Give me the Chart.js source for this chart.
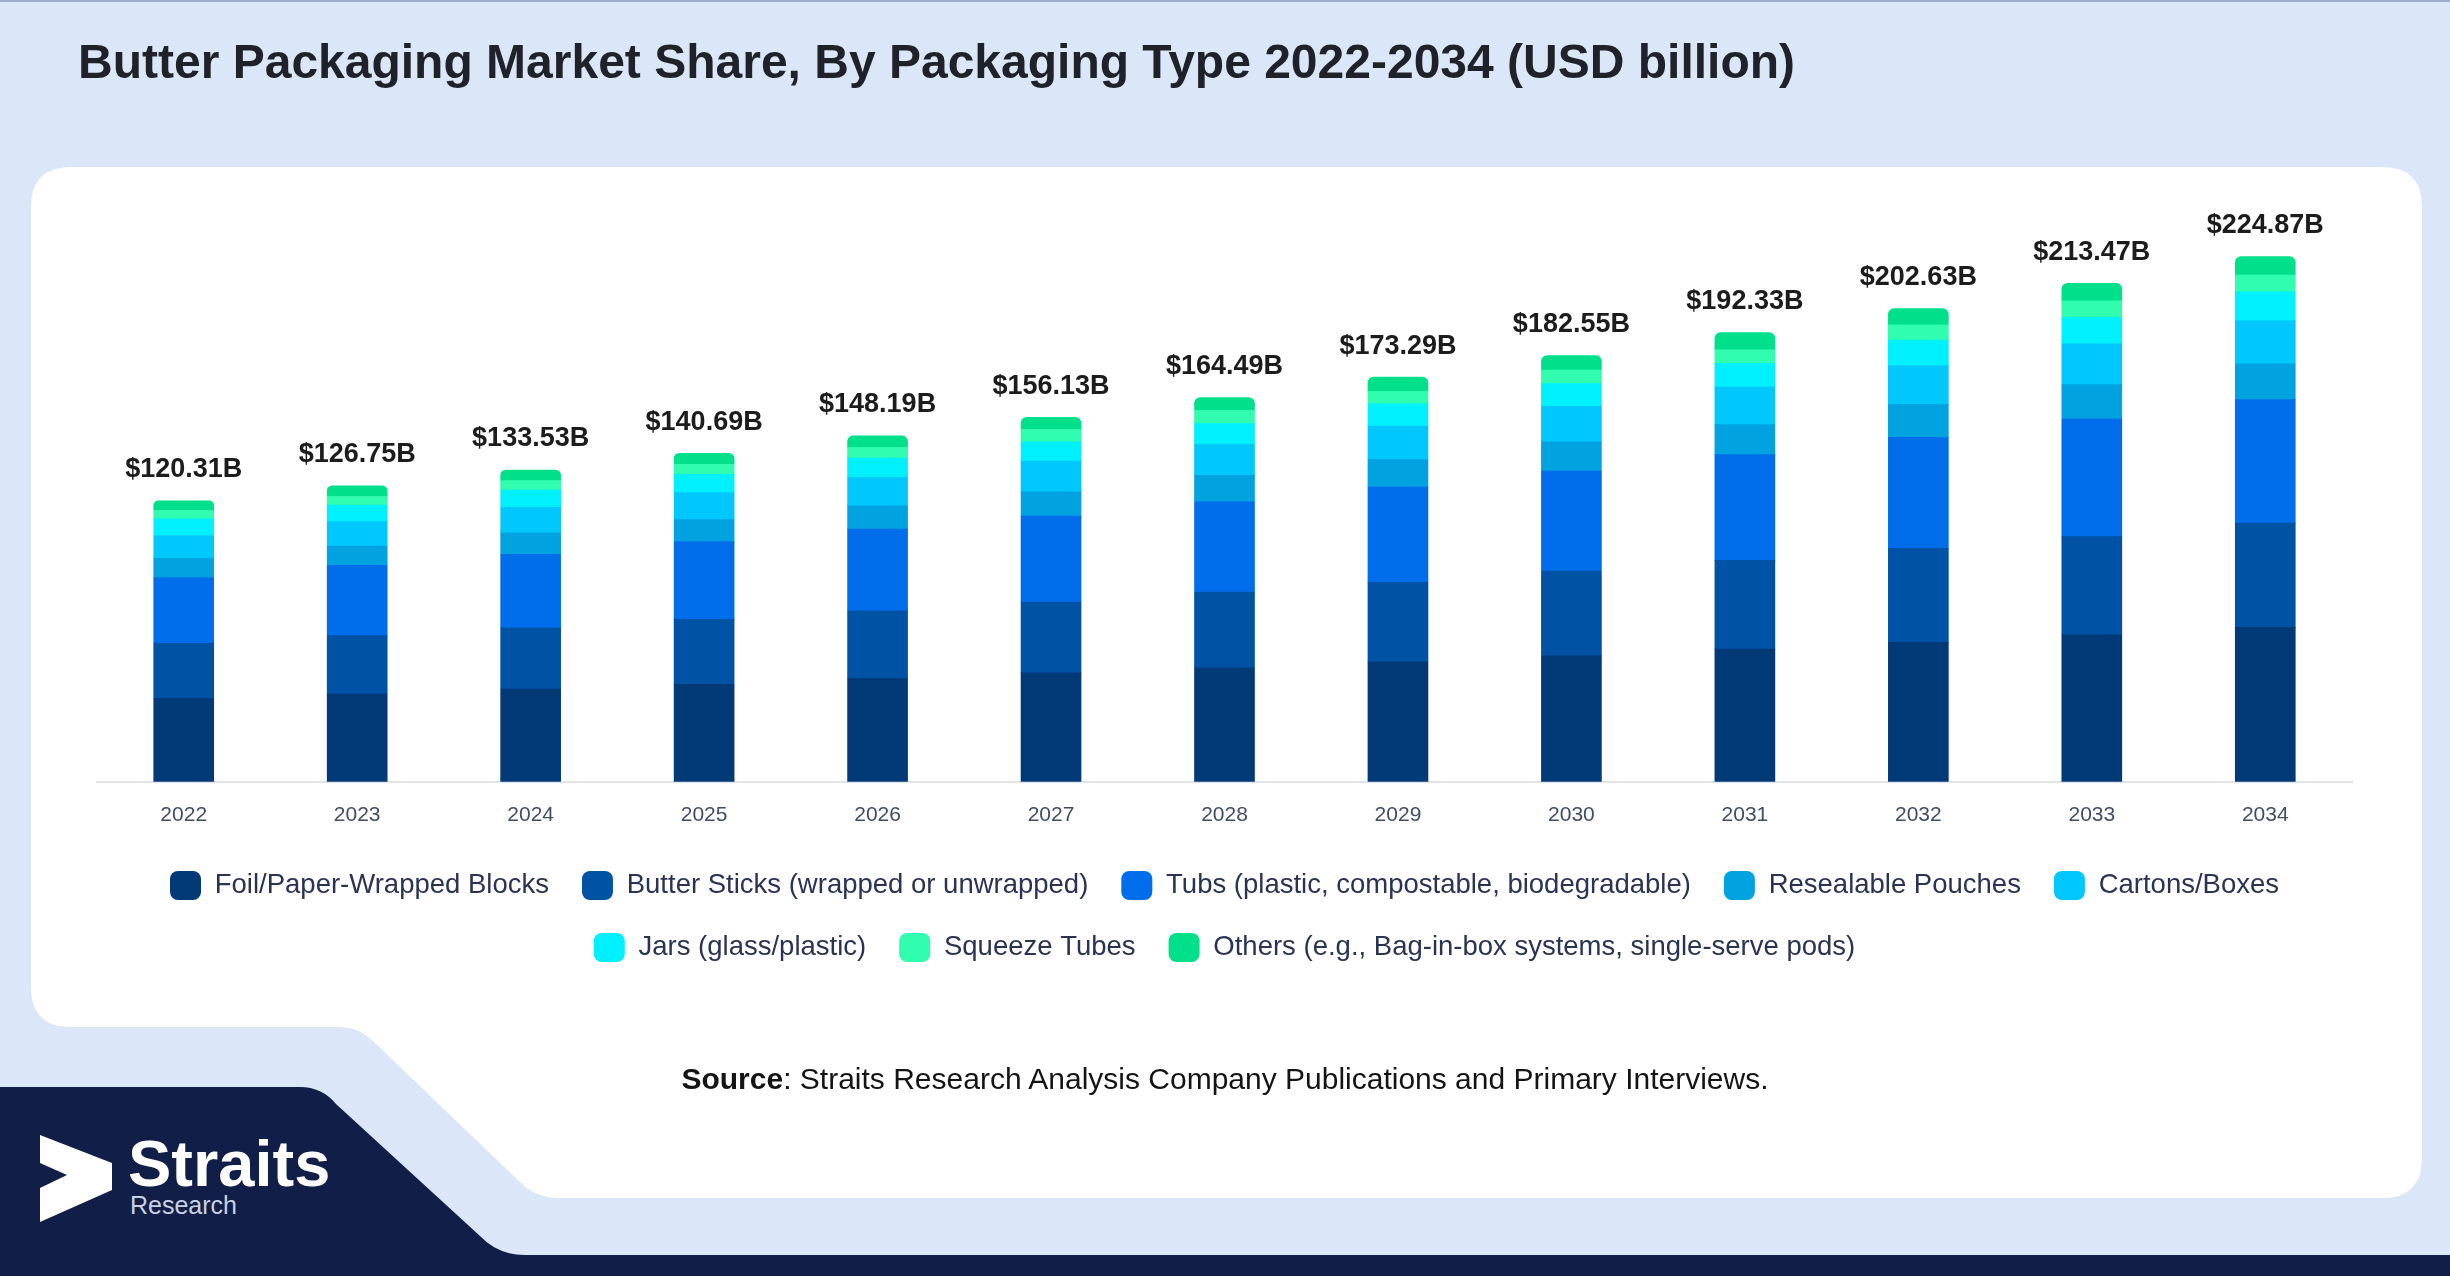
<!DOCTYPE html>
<html>
<head>
<meta charset="utf-8">
<title>Butter Packaging Market Share</title>
<script src="https://cdn.jsdelivr.net/npm/chart.js@4.4.1/dist/chart.umd.min.js"></script>
<style>
  html, body { margin: 0; padding: 0; }
  body {
    width: 2450px; height: 1276px; overflow: hidden; position: relative;
    background: #dbe7f8;
    font-family: "Liberation Sans", Arial, sans-serif;
  }
  #bg { position: absolute; left: 0; top: 0; }
  #chart { position: absolute; left: 0; top: 0; }
  .title {
    position: absolute; left: 78px; top: 34px;
    font-size: 48px; font-weight: bold; color: #1f2329;
    white-space: nowrap;
  }
  .source {
    position: absolute; left: 0; width: 2450px; top: 1062px;
    text-align: center; font-size: 30px; color: #141414;
  }
</style>
</head>
<body>

<svg id="bg" width="2450" height="1276" viewBox="0 0 2450 1276">
  <rect x="0" y="0" width="2450" height="2" fill="#9fadc9"/>
  <!-- white card -->
  <path d="M 71 167 H 2382 Q 2422 167 2422 207 V 1158 Q 2422 1198 2382 1198 H 560 Q 535 1198 520 1182 L 372 1040 Q 358 1027 338 1027 H 71 Q 31 1027 31 987 V 207 Q 31 167 71 167 Z" fill="#ffffff"/>
  <!-- navy footer -->
  <path d="M 0 1087 H 300 Q 322 1087 336 1104 L 480 1236 Q 498 1255 525 1255 H 2450 V 1276 H 0 Z" fill="#111f48"/>
  <!-- logo -->
  <polygon points="40,1135 112,1163 112,1190 40,1222 40,1188 67,1175 40,1163" fill="#ffffff"/>
  <text x="128" y="1186" font-family="Liberation Sans, Arial, sans-serif" font-size="65" font-weight="bold" fill="#ffffff">Straits</text>
  <text x="130" y="1214" font-family="Liberation Sans, Arial, sans-serif" font-size="25" fill="#c9d1e3">Research</text>
</svg>

<canvas id="chart" width="2450" height="1276"></canvas>

<div class="title">Butter Packaging Market Share, By Packaging Type 2022-2034 (USD billion)</div>
<div class="source"><b>Source</b>: Straits Research Analysis Company Publications and Primary Interviews.</div>

<script>
// data (USD billion)
var years = ['2022', '2023', '2024', '2025', '2026', '2027', '2028', '2029', '2030', '2031', '2032', '2033', '2034'];
var totals = [120.31, 126.75, 133.53, 140.69, 148.19, 156.13, 164.49, 173.29, 182.55, 192.33, 202.63, 213.47, 224.87];

var foil    = [35.72, 37.52, 39.69, 41.71, 44.16, 46.67, 48.83, 51.39, 53.90, 56.87, 59.72, 62.99, 66.15];
var sticks  = [23.58, 25.06, 26.22, 27.85, 29.01, 30.25, 32.41, 34.02, 36.37, 37.92, 40.29, 42.00, 44.63];
var tubs    = [28.15, 30.08, 31.52, 33.28, 35.01, 36.82, 38.70, 40.83, 42.74, 45.30, 47.54, 50.39, 52.85];
var pouches = [8.29, 8.31, 9.17, 9.43, 10.00, 10.42, 11.28, 11.73, 12.60, 12.88, 14.06, 14.70, 15.40];
var cartons = [9.72, 10.46, 10.89, 11.57, 12.15, 13.13, 13.28, 14.33, 15.21, 16.06, 16.67, 17.50, 18.38];
var jars    = [7.14, 7.02, 7.45, 7.86, 8.29, 8.28, 8.85, 9.55, 9.71, 10.13, 10.87, 11.37, 12.43];
var squeeze = [3.57, 3.72, 4.01, 4.28, 4.57, 5.28, 5.71, 5.36, 5.80, 5.79, 6.52, 7.00, 7.18];
var others  = [4.14, 4.58, 4.58, 4.71, 5.00, 5.28, 5.43, 6.08, 6.23, 7.38, 6.96, 7.52, 7.88];

var seriesNames = [
    'Foil/Paper-Wrapped Blocks',
    'Butter Sticks (wrapped or unwrapped)',
    'Tubs (plastic, compostable, biodegradable)',
    'Resealable Pouches',
    'Cartons/Boxes',
    'Jars (glass/plastic)',
    'Squeeze Tubes',
    'Others (e.g., Bag-in-box systems, single-serve pods)'
];
var seriesValues = [foil, sticks, tubs, pouches, cartons, jars, squeeze, others];
var seriesColors = ['#023a78', '#0052a5', '#006eeb', '#00a3e0', '#00c8fd', '#00f0fd', '#30fdb0', '#00e08a'];

// total value labels above each stack
var totalLabels = {
    id: 'totalLabels',
    afterDatasetsDraw: function (chart) {
        var ctx = chart.ctx;
        var x = chart.scales.x;
        var y = chart.scales.y;
        ctx.save();
        ctx.font = 'bold 27px "Liberation Sans", Arial, sans-serif';
        ctx.fillStyle = '#1c1c1c';
        ctx.textAlign = 'center';
        ctx.textBaseline = 'middle';
        totals.forEach(function (t, i) {
            ctx.fillText('$' + t.toFixed(2) + 'B', x.getPixelForValue(i), y.getPixelForValue(t) - 31);
        });
        ctx.restore();
    }
};

var ctx = document.getElementById('chart').getContext('2d');

var chart = new Chart(ctx, {
    type: 'bar',
    data: {
        labels: years,
        datasets: seriesNames.map(function (name, i) {
            return {
                label: name,
                data: seriesValues[i],
                backgroundColor: seriesColors[i],
                borderWidth: 0,
                borderRadius: 6,
                barThickness: 60
            };
        })
    },
    options: {
        responsive: false,
        animation: false,
        devicePixelRatio: 1,
        layout: {
            padding: { left: 97, right: 98, top: 198, bottom: 304 }
        },
        scales: {
            x: {
                stacked: true,
                grid: { display: false, drawTicks: false },
                border: { display: true, color: '#e2e4e8', width: 2 },
                ticks: {
                    color: '#414d66',
                    padding: 21,
                    font: { family: '"Liberation Sans", Arial, sans-serif', size: 21 }
                },
                afterFit: function (scale) { scale.height -= 11; }
            },
            y: {
                stacked: true,
                display: false,
                min: 0,
                max: 250
            }
        },
        plugins: {
            legend: {
                position: 'bottom',
                labels: {
                    boxWidth: 31,
                    boxHeight: 29,
                    padding: 33,
                    useBorderRadius: true,
                    borderRadius: 8,
                    color: '#2a3352',
                    font: { family: '"Liberation Sans", Arial, sans-serif', size: 27.5 }
                }
            },
            tooltip: { enabled: false }
        }
    },
    plugins: [totalLabels]
});
</script>
</body>
</html>
